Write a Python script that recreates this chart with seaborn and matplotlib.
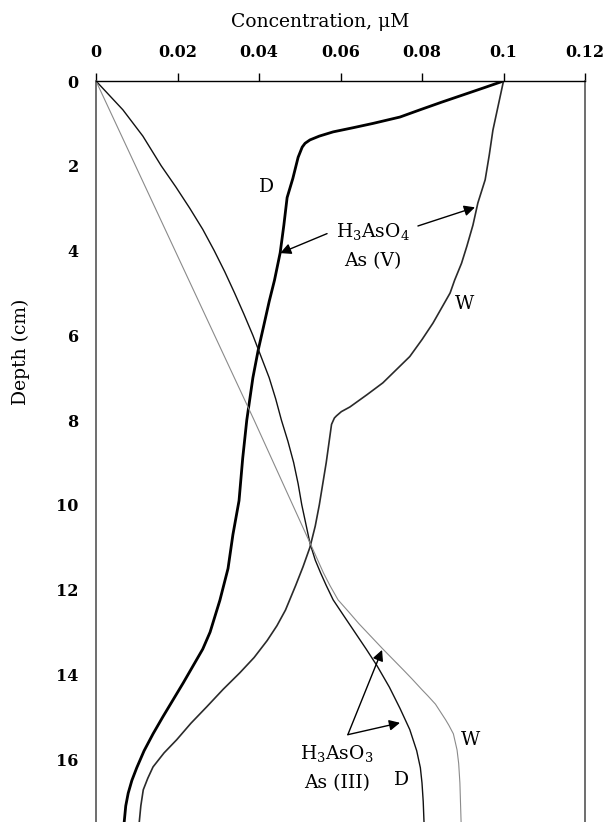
import matplotlib
matplotlib.use("Agg")
import matplotlib.pyplot as plt
import seaborn as sns
import pandas as pd

# ---- data ----
depth_D_V = [0, 0.15, 0.33, 0.5, 0.68, 0.85, 1.0, 1.1, 1.2, 1.3, 1.39, 1.47, 1.56, 1.8, 2.3,
             2.75, 3.4, 4.05, 4.7, 5.2, 5.8, 6.35, 7.0, 8.0, 8.9, 9.9, 10.7, 11.5, 12.25,
             13.0, 13.4, 13.8, 14.2, 14.6, 15.0, 15.4, 15.8, 16.2, 16.5, 16.8, 17.1, 17.5]
conc_D_V = [0.1, 0.0955, 0.090, 0.0848, 0.0795, 0.0746, 0.068, 0.0632, 0.0582, 0.0548,
            0.0525, 0.0513, 0.0506, 0.0496, 0.0483, 0.0469, 0.0461, 0.0452, 0.0438, 0.0425,
            0.0411, 0.0398, 0.0385, 0.037, 0.0360, 0.0351, 0.0336, 0.0324, 0.0304, 0.028,
            0.0262, 0.0238, 0.0214, 0.0189, 0.0164, 0.014, 0.0118, 0.010, 0.0088, 0.0079,
            0.0073, 0.0069]

depth_W_V = [0, 1.16, 1.75, 2.33, 2.88, 3.4, 3.9, 4.3, 4.7, 5.0, 5.71, 6.1, 6.5, 7.12, 7.4,
             7.69, 7.8, 7.9, 7.95, 8.1, 9.0, 10.0, 10.5, 11.0, 11.46, 11.9, 12.48, 12.85, 13.2,
             13.6, 13.96, 14.35, 14.76, 15.15, 15.54, 15.85, 16.18, 16.45, 16.72, 17.1, 17.5]
conc_W_V = [0.1, 0.0974, 0.0965, 0.0955, 0.0937, 0.0925, 0.091, 0.0897, 0.088, 0.0869,
            0.0827, 0.0800, 0.077, 0.0704, 0.0665, 0.0623, 0.0602, 0.059, 0.0585, 0.0578,
            0.0565, 0.0548, 0.0538, 0.0525, 0.0508, 0.0490, 0.0465, 0.0444, 0.042, 0.0388,
            0.0353, 0.0312, 0.0272, 0.0233, 0.0198, 0.0167, 0.014, 0.0127, 0.0116, 0.0110,
            0.0106]

depth_D_III = [0, 0.68, 1.3, 2, 2.5, 3, 3.5, 4, 4.5, 5, 5.5, 6, 6.5, 7, 7.5, 8, 8.5, 9, 9.5,
               10, 10.45, 10.9, 11.3, 11.6, 11.9, 12.24, 12.6, 13.0, 13.4, 13.8, 14.3, 14.8,
               15.3, 15.8, 16.2, 16.56, 17.0, 17.5]
conc_D_III = [0, 0.0066, 0.0115, 0.016, 0.0196, 0.023, 0.0262, 0.029, 0.0316, 0.034, 0.0363,
              0.0385, 0.0405, 0.0425, 0.0441, 0.0455, 0.0471, 0.0485, 0.0496, 0.0505, 0.0515,
              0.0525, 0.0538, 0.0551, 0.0565, 0.0582, 0.0607, 0.0635, 0.0663, 0.069, 0.0720,
              0.0746, 0.0770, 0.0787, 0.0796, 0.080, 0.0803, 0.0805]

depth_W_III = [0, 4, 8, 11, 11.6, 11.9, 12.24, 12.5, 12.8, 13.4, 13.9, 14.1, 14.36, 14.5,
               14.7, 15.07, 15.2, 15.4, 15.78, 16.1, 16.56, 17.5]
conc_W_III = [0, 0.0194, 0.0388, 0.053, 0.0558, 0.0574, 0.0594, 0.0618, 0.0645, 0.0704,
              0.0755, 0.0775, 0.080, 0.0814, 0.0833, 0.0858, 0.0866, 0.0877, 0.0886, 0.089,
              0.0893, 0.0896]

x_ticks = [0, 0.02, 0.04, 0.06, 0.08, 0.1, 0.12]
x_tick_labels = ["0", "0.02", "0.04", "0.06", "0.08", "0.1", "0.12"]
y_ticks = [0, 2, 4, 6, 8, 10, 12, 14, 16]

sns.set_theme(style="white")
plt.rcParams["font.family"] = ["DejaVu Serif"]
plt.rcParams["mathtext.fontset"] = "dejavuserif"
plt.rcParams["text.color"] = "black"
plt.rcParams["axes.labelcolor"] = "black"
plt.rcParams["xtick.color"] = "black"
plt.rcParams["ytick.color"] = "black"
plt.rcParams["lines.solid_joinstyle"] = "round"

fig = plt.figure(figsize=(6.04, 8.22), dpi=100)
ax = fig.add_axes([96 / 604, 0.0, (585 - 96) / 604, (822 - 81) / 822])

series = [
    (conc_D_V, depth_D_V, "#000000", 2.0),
    (conc_W_V, depth_W_V, "#2a2a2a", 1.2),
    (conc_D_III, depth_D_III, "#111111", 1.0),
    (conc_W_III, depth_W_III, "#8a8a8a", 0.8),
]
for xs, ys, col, lw in series:
    df = pd.DataFrame({"conc": xs, "depth": ys})
    sns.lineplot(data=df, x="conc", y="depth", sort=False, estimator=None,
                 color=col, linewidth=lw, ax=ax)

ax.set_xlim(0, 0.12)
ax.set_ylim(17.48, 0)
ax.xaxis.tick_top()
ax.xaxis.set_label_position("top")
ax.set_xticks(x_ticks)
ax.set_xticklabels(x_tick_labels)
ax.set_yticks(y_ticks)
ax.tick_params(axis="x", which="major", direction="out", length=5.5, width=1,
               labelsize=11.5, pad=9, color="#000000", labelcolor="black")
ax.tick_params(axis="y", which="major", direction="out", length=4.5, width=1,
               labelsize=11.5, pad=8, color="#555555", labelcolor="black")
for lab in ax.get_xticklabels() + ax.get_yticklabels():
    lab.set_fontweight("bold")

ax.set_xlabel("Concentration, μM", fontsize=13.5)
ax.set_ylabel("Depth (cm)", fontsize=13.5)
ax.xaxis.set_label_coords(0.458, 1.073)
ax.yaxis.set_label_coords(-0.135, 0.634)

ax.spines["top"].set_color("#000000")
ax.spines["top"].set_linewidth(1.0)
for s in ["left", "right"]:
    ax.spines[s].set_color("#555555")
    ax.spines[s].set_linewidth(1.2)
ax.spines["bottom"].set_visible(False)
ax.grid(False)

fs = 13.5
ax.text(0.0418, 2.5, "D", fontsize=fs, ha="center", va="center")
ax.text(0.0905, 5.25, "W", fontsize=fs, ha="center", va="center")
ax.text(0.0679, 3.55, "H$_3$AsO$_4$", fontsize=fs, ha="center", va="center")
ax.text(0.0679, 4.25, "As (V)", fontsize=fs, ha="center", va="center")
arw = dict(arrowstyle="-|>", color="black", lw=1.0, mutation_scale=16, shrinkA=0, shrinkB=0)
ax.annotate("", xy=(0.0452, 4.06), xytext=(0.0567, 3.6), arrowprops=arw)
ax.annotate("", xy=(0.0930, 2.98), xytext=(0.0790, 3.42), arrowprops=arw)

ax.text(0.0591, 15.87, "H$_3$AsO$_3$", fontsize=fs, ha="center", va="center")
ax.text(0.0591, 16.57, "As (III)", fontsize=fs, ha="center", va="center")
ax.text(0.0918, 15.55, "W", fontsize=fs, ha="center", va="center")
ax.text(0.0751, 16.5, "D", fontsize=fs, ha="center", va="center")
ax.annotate("", xy=(0.0702, 13.42), xytext=(0.0618, 15.42), arrowprops=arw)
ax.annotate("", xy=(0.0746, 15.14), xytext=(0.0618, 15.42), arrowprops=arw)

fig.savefig("out.png", dpi=100)
